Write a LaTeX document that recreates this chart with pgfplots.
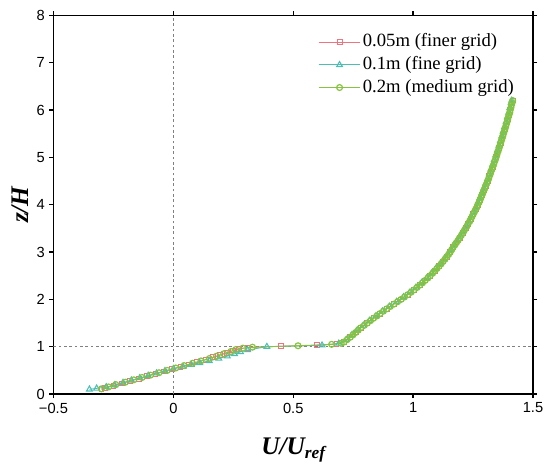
\documentclass[border=0pt]{standalone}
\usepackage{fontspec}
\setmainfont{Liberation Serif}
\newfontfamily\arial{Liberation Sans}
\usepackage{pgfplots}
\usepackage{pgfplotstable}
\pgfplotsset{compat=1.18}

\definecolor{sqred}{HTML}{EE7480}
\definecolor{tricyan}{HTML}{4CBEB4}
\definecolor{cirgreen}{HTML}{86C440}
\definecolor{refline}{HTML}{808080}

% 0.05m (finer grid)
\pgfplotstableread{
u z
-0.300 0.10
-0.285 0.13
-0.250 0.175
-0.215 0.225
-0.180 0.275
-0.145 0.325
-0.110 0.375
-0.075 0.425
-0.040 0.475
-0.005 0.525
0.030 0.575
0.065 0.625
0.100 0.675
0.135 0.725
0.165 0.775
0.195 0.825
0.225 0.875
0.250 0.92
0.275 0.955
0.310 0.98
0.450 1.01
0.600 1.03
0.680 1.06
0.712 1.10
0.738 1.20
0.760 1.30
0.782 1.40
0.809 1.50
0.835 1.60
0.862 1.70
0.890 1.80
0.920 1.90
0.950 2.00
0.978 2.10
1.004 2.20
1.028 2.30
1.050 2.40
1.071 2.50
1.090 2.60
1.108 2.70
1.125 2.80
1.141 2.90
1.155 3.00
1.167 3.10
1.181 3.20
1.194 3.30
1.207 3.40
1.219 3.50
1.230 3.60
1.241 3.70
1.251 3.80
1.261 3.90
1.270 4.00
1.279 4.10
1.287 4.20
1.295 4.30
1.303 4.40
1.311 4.50
1.318 4.60
1.325 4.70
1.332 4.80
1.339 4.90
1.346 5.00
1.352 5.10
1.359 5.20
1.365 5.30
1.371 5.40
1.377 5.50
1.383 5.60
1.389 5.70
1.394 5.80
1.400 5.90
1.405 6.00
1.410 6.10
1.415 6.20
}\finer

% 0.1m (fine grid)
\pgfplotstableread{
u z
-0.350 0.10
-0.320 0.12
-0.280 0.15
-0.245 0.19
-0.210 0.24
-0.175 0.29
-0.140 0.34
-0.105 0.39
-0.070 0.44
-0.035 0.49
0.000 0.535
0.040 0.58
0.075 0.62
0.110 0.66
0.150 0.70
0.190 0.75
0.225 0.80
0.255 0.85
0.280 0.89
0.310 0.93
0.390 1.00
0.620 1.03
0.690 1.07
0.721 1.15
0.745 1.25
0.767 1.35
0.792 1.45
0.818 1.55
0.845 1.65
0.872 1.75
0.901 1.85
0.931 1.95
0.960 2.05
0.987 2.15
1.012 2.25
1.035 2.35
1.057 2.45
1.077 2.55
1.095 2.65
1.113 2.75
1.129 2.85
1.144 2.95
1.157 3.05
1.170 3.15
1.184 3.25
1.197 3.35
1.209 3.45
1.221 3.55
1.232 3.65
1.242 3.75
1.252 3.85
1.262 3.95
1.271 4.05
1.279 4.15
1.287 4.25
1.295 4.35
1.303 4.45
1.311 4.55
1.318 4.65
1.325 4.75
1.332 4.85
1.339 4.95
1.345 5.05
1.352 5.15
1.358 5.25
1.364 5.35
1.370 5.45
1.376 5.55
1.382 5.65
1.388 5.75
1.393 5.85
1.399 5.95
1.404 6.05
1.409 6.15
1.411 6.20
}\fine

% 0.2m (medium grid)
\pgfplotstableread{
u z
-0.300 0.11
-0.270 0.15
-0.240 0.20
-0.200 0.25
-0.165 0.30
-0.130 0.35
-0.095 0.40
-0.060 0.45
-0.025 0.50
0.010 0.55
0.045 0.60
0.080 0.65
0.115 0.70
0.150 0.75
0.180 0.80
0.210 0.85
0.240 0.90
0.260 0.94
0.290 0.97
0.330 0.99
0.520 1.02
0.660 1.05
0.700 1.07
0.712 1.10
0.725 1.15
0.738 1.20
0.749 1.25
0.760 1.30
0.771 1.35
0.782 1.40
0.796 1.45
0.809 1.50
0.822 1.55
0.835 1.60
0.849 1.65
0.862 1.70
0.876 1.75
0.890 1.80
0.905 1.85
0.920 1.90
0.935 1.95
0.950 2.00
0.964 2.05
0.978 2.10
0.991 2.15
1.004 2.20
1.016 2.25
1.028 2.30
1.039 2.35
1.050 2.40
1.061 2.45
1.071 2.50
1.081 2.55
1.090 2.60
1.099 2.65
1.108 2.70
1.117 2.75
1.125 2.80
1.133 2.85
1.141 2.90
1.148 2.95
1.155 3.00
1.161 3.05
1.167 3.10
1.174 3.15
1.181 3.20
1.188 3.25
1.194 3.30
1.201 3.35
1.207 3.40
1.213 3.45
1.219 3.50
1.225 3.55
1.230 3.60
1.236 3.65
1.241 3.70
1.246 3.75
1.251 3.80
1.256 3.85
1.261 3.90
1.266 3.95
1.270 4.00
1.275 4.05
1.279 4.10
1.283 4.15
1.287 4.20
1.291 4.25
1.295 4.30
1.299 4.35
1.303 4.40
1.307 4.45
1.311 4.50
1.315 4.55
1.318 4.60
1.322 4.65
1.325 4.70
1.329 4.75
1.332 4.80
1.336 4.85
1.339 4.90
1.343 4.95
1.346 5.00
1.349 5.05
1.352 5.10
1.356 5.15
1.359 5.20
1.362 5.25
1.365 5.30
1.368 5.35
1.371 5.40
1.374 5.45
1.377 5.50
1.380 5.55
1.383 5.60
1.386 5.65
1.389 5.70
1.392 5.75
1.394 5.80
1.397 5.85
1.400 5.90
1.403 5.95
1.405 6.00
1.408 6.05
1.410 6.10
1.413 6.15
1.415 6.20
}\medium

\begin{document}
\begin{tikzpicture}
\begin{axis}[
    width=359.6pt, height=284pt, scale only axis,
    xmin=-0.5, xmax=1.5, ymin=0, ymax=8,
    xtick={-0.5,0,0.5,1,1.5},
    xticklabels={−0.5,0,0.5,1,1.5},
    ytick={0,1,...,8},
    tick align=outside,
    major tick length=3pt,
    axis line style={line width=1.1pt},
    tick style={black, line width=1pt},
    /pgf/number format/assume math mode=true,
    tick label style={font=\arial\fontsize{11}{13}\selectfont},
    label style={font=\fontsize{19}{22}\selectfont\bfseries\itshape},
    xlabel={U/U\raisebox{-2.5pt}{\fontsize{13}{15}\selectfont ref}},
    ylabel={z/H},
    xlabel style={at={(axis description cs:0.5,-0.148)}, anchor=center},
    ylabel style={at={(axis description cs:-0.07,0.5)}, anchor=center},
    legend cell align=left,
    legend style={at={(0.973,0.965)}, anchor=north east, draw=none, fill=none,
        font=\fontsize{14}{16}\selectfont, row sep=1pt,
        nodes={inner sep=1.5pt, text height=10pt, text depth=3pt}},
    legend image code/.code={
        \draw[mark repeat=2, mark phase=2, #1] plot coordinates {(0cm,0cm) (0.55cm,0cm) (1.1cm,0cm)};},
]
\addplot[color=refline, dash pattern=on 2pt off 2pt, line width=0.5pt, forget plot]
    coordinates {(-0.5,1) (1.5,1)};
\addplot[color=refline, dash pattern=on 2pt off 2pt, line width=0.5pt, forget plot]
    coordinates {(0,0) (0,8)};

\addplot[color=sqred, line width=0.6pt, mark=square, mark size=1.8pt,
    mark options={solid, draw=sqred, line width=0.7pt}] table[x=u, y=z] {\finer};
\addplot[color=tricyan, line width=0.6pt, mark=triangle, mark size=2.5pt,
    mark options={solid, draw=tricyan, line width=0.8pt}] table[x=u, y=z] {\fine};
\addplot[color=cirgreen, line width=0.7pt, mark=o, mark size=2.2pt,
    mark options={solid, draw=cirgreen, line width=0.9pt}] table[x=u, y=z] {\medium};

\legend{0.05m (finer grid), 0.1m (fine grid), 0.2m (medium grid)}
\end{axis}
\pgfresetboundingbox
\path (current axis.south west) ++(-40.1pt,-55.5pt)
      (current axis.north east) ++(12.75pt,11.5pt);
\end{tikzpicture}
\end{document}
